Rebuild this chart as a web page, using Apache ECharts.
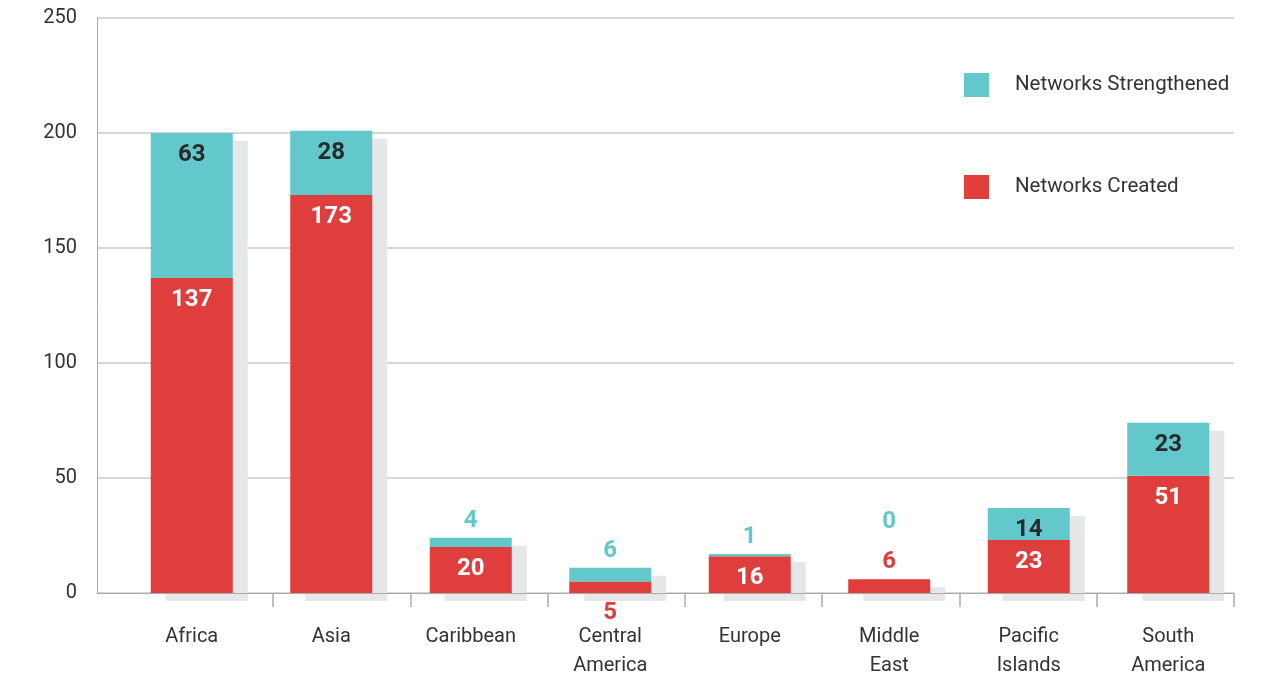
<!DOCTYPE html>
<html>
<head>
<meta charset="utf-8">
<script src="https://cdn.jsdelivr.net/npm/echarts@6/dist/echarts.min.js"></script>
<style>
  html, body { margin: 0; padding: 0; background: #fff; }
  #chart { width: 1268px; height: 674px; }
</style>
</head>
<body>
<div id="chart"></div>
<script>
// data
const regions = ['Africa', 'Asia', 'Caribbean', 'Central\nAmerica', 'Europe', 'Middle\nEast', 'Pacific\nIslands', 'South\nAmerica']
const created = [137, 173, 20, 5, 16, 6, 23, 51]
const strengthened = [63, 28, 4, 6, 1, 0, 14, 23]
const yTicks = { min: 0, max: 250, interval: 50 }

const RED = '#e03e3d'
const CYAN = '#62c8cc'
const DARK = '#2b2b2b'
const SHADOW = '#e6e7e8'
const FONT = 'Roboto, "Noto Sans", sans-serif'

const totals = created.map((v, i) => v + strengthened[i])

// label helpers: small bars get their number outside
const baseLabel = (color) => ({
  show: true,
  position: 'insideTop',
  distance: 10,
  color: color,
  fontSize: 24,
  fontWeight: 'bold',
  fontFamily: FONT
})

const createdData = created.map((v, i) => {
  const item = { value: v, label: baseLabel('#fff') }
  if (i === 3) Object.assign(item.label, { position: 'bottom', distance: 8, color: RED })
  if (i === 5) Object.assign(item.label, { position: 'top', distance: 5, color: RED })
  return item
})

const strengthenedData = strengthened.map((v, i) => {
  const item = { value: v, label: baseLabel(DARK) }
  if (i === 2 || i === 3 || i === 4) Object.assign(item.label, { position: 'top', distance: 5, color: CYAN })
  if (i === 5) Object.assign(item.label, { position: 'top', distance: 5, color: CYAN, offset: [0, -40] })
  return item
})

const chart = echarts.init(document.getElementById('chart'))

const gridBase = { top: 18, bottom: 81, containLabel: false, outerBoundsMode: 'none' }

const option = {
  animation: false,
  textStyle: { fontFamily: FONT },
  legend: {
    data: ['Networks Strengthened', 'Networks Created'],
    orient: 'vertical',
    left: 964,
    top: 73,
    padding: 0,
    itemWidth: 25,
    itemHeight: 24,
    itemGap: 78,
    icon: 'rect',
    selectedMode: false,
    textStyle: { fontSize: 20.5, color: '#333', fontFamily: FONT, padding: [3, 0, 0, 21] }
  },
  grid: [
    Object.assign({ left: 97, right: 34 }, gridBase),   // frame + y axis
    Object.assign({ left: 273, right: 34 }, gridBase),  // category tick marks
    Object.assign({ left: 122, right: 30 }, gridBase)   // bars
  ],
  xAxis: [
    {
      gridIndex: 0, type: 'value', min: 0, max: 1, z: 5,
      axisLine: { show: true, lineStyle: { color: '#aaa', width: 1 } },
      axisTick: { show: false }, axisLabel: { show: false }, splitLine: { show: false }
    },
    {
      gridIndex: 1, type: 'value', min: 1, max: 8, interval: 1,
      axisLine: { show: false },
      axisTick: { show: true, length: 14, lineStyle: { color: '#aaa', width: 1.5 } },
      axisLabel: { show: false }, splitLine: { show: false }
    },
    {
      gridIndex: 2, type: 'category', data: regions,
      axisLine: { show: false }, axisTick: { show: false },
      axisLabel: { fontSize: 20, color: '#333', margin: 29, lineHeight: 29, fontFamily: FONT }
    }
  ],
  yAxis: [
    {
      gridIndex: 0, type: 'value', min: yTicks.min, max: yTicks.max, interval: yTicks.interval,
      axisLine: { show: true, lineStyle: { color: '#aaa', width: 1 } },
      axisTick: { show: false },
      axisLabel: { fontSize: 20, color: '#333', margin: 20, fontFamily: FONT },
      splitLine: { show: true, lineStyle: { color: '#c8c8c8', width: 1.5 } }
    },
    { gridIndex: 1, type: 'value', min: yTicks.min, max: yTicks.max, show: false },
    { gridIndex: 2, type: 'value', min: yTicks.min, max: yTicks.max, show: false }
  ],
  series: [
    {
      name: 'shadow',
      type: 'custom',
      xAxisIndex: 2,
      yAxisIndex: 2,
      z: 1,
      silent: true,
      data: totals.map((t, i) => [i, t]),
      renderItem: (params, api) => {
        const base = api.coord([api.value(0), 0])
        const top = api.coord([api.value(0), api.value(1)])
        return {
          type: 'rect',
          shape: { x: base[0] - 41 + 15, y: top[1] + 8, width: 82, height: base[1] - top[1] },
          style: { fill: SHADOW }
        }
      }
    },
    {
      name: 'Networks Created',
      type: 'bar',
      stack: 'total',
      xAxisIndex: 2,
      yAxisIndex: 2,
      barWidth: 82,
      z: 3,
      itemStyle: { color: RED },
      data: createdData
    },
    {
      name: 'Networks Strengthened',
      type: 'bar',
      stack: 'total',
      xAxisIndex: 2,
      yAxisIndex: 2,
      barWidth: 82,
      z: 3,
      itemStyle: { color: CYAN },
      data: strengthenedData
    }
  ]
}

chart.setOption(option)
</script>
</body>
</html>
